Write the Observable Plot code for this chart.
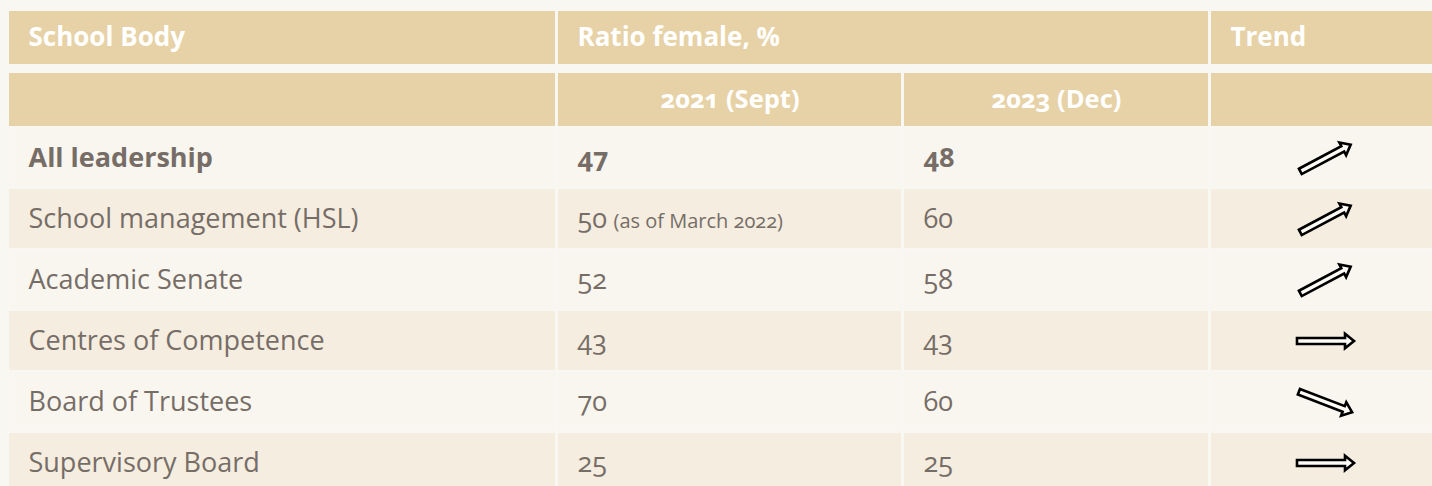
<!DOCTYPE html>
<html><head><meta charset="utf-8">
<script src="https://cdn.jsdelivr.net/npm/d3@7"></script>
<script src="https://cdn.jsdelivr.net/npm/@observablehq/plot@0.6"></script>
<style>html,body{margin:0;padding:0;background:#f9f7f2;overflow:hidden}</style>
</head><body><div id="chart"></div>
<script>
// ---- data ----
const bodies = ["All leadership", "School management (HSL)", "Academic Senate", "Centres of Competence", "Board of Trustees", "Supervisory Board"];
const ratio2021 = [47, 50, 52, 43, 70, 25];
const notes2021 = ["", "(as of March 2022)", "", "", "", ""];
const ratio2023 = [48, 60, 58, 43, 60, 25];
const headerTop = ["School Body", "Ratio female, %", "Trend"];
const headerSub = ["2021 (Sept)", "2023 (Dec)"];

// ---- layout & style ----
const L = {
  cols: [[9, 555], [558, 901], [904, 1208], [1211, 1440]],
  h1: [11, 64], h2: [73, 126],
  bodyTop: 128, pitch: 61, rowH: 59, pad: 19, arrowX: 1325
};
const C = {header: "#e6d2a6", light: "#f9f6ef", dark: "#f4ede0", text: "#776d67", white: "#ffffff", page: "#f9f7f2"};
const FONT = "'Open Sans', Lato, sans-serif";
const FS = {head: 26, sub: 25.5, body: 27, note: 20};

const rows = bodies.map((b, i) => ({
  body: b, v21: ratio2021[i], note: notes2021[i], v23: ratio2023[i],
  trend: Math.sign(ratio2023[i] - ratio2021[i]), i,
  y1: L.bodyTop + i * L.pitch, y2: L.bodyTop + i * L.pitch + L.rowH
}));

// cells
const cells = [];
cells.push({x1: L.cols[0][0], x2: L.cols[0][1], y1: L.h1[0], y2: L.h1[1], fill: C.header});
cells.push({x1: L.cols[1][0], x2: L.cols[2][1], y1: L.h1[0], y2: L.h1[1], fill: C.header});
cells.push({x1: L.cols[3][0], x2: L.cols[3][1], y1: L.h1[0], y2: L.h1[1], fill: C.header});
L.cols.forEach(c => cells.push({x1: c[0], x2: c[1], y1: L.h2[0], y2: L.h2[1], fill: C.header}));
rows.forEach(r => L.cols.forEach(c => cells.push({x1: c[0], x2: c[1], y1: r.y1, y2: r.y2, fill: r.i % 2 ? C.dark : C.light})));

const mid = a => (a[0] + a[1]) / 2;
const rowMid = r => (r.y1 + r.y2) / 2;
const topText = headerTop.map((t, k) => ({t, x: L.cols[[0, 1, 3][k]][0] + L.pad, y: mid(L.h1)}));
const subText = headerSub.map((t, k) => ({t, x: mid(L.cols[k + 1]), y: mid(L.h2)}));

const blockArrow = {
  draw(ctx, l) {
    const w = 3, hw = 7.2, hl = 9;
    ctx.moveTo(-w, 0); ctx.lineTo(-w, -l + hl); ctx.lineTo(-hw, -l + hl); ctx.lineTo(0, -l);
    ctx.lineTo(hw, -l + hl); ctx.lineTo(w, -l + hl); ctx.lineTo(w, 0); ctx.closePath();
  }
};

const boldRows = rows.filter(r => r.i === 0);
const plainRows = rows.filter(r => r.i !== 0);

function rowTexts(data, weight) {
  const base = {textAnchor: "start", fill: C.text, fontSize: FS.body, fontWeight: weight, fontFamily: FONT, y: rowMid};
  return [
    Plot.text(data, {...base, x: L.cols[0][0] + L.pad, text: "body"}),
    Plot.text(data, {...base, x: L.cols[1][0] + L.pad, text: r => String(r.v21)}),
    Plot.text(data, {...base, x: L.cols[2][0] + L.pad, text: r => String(r.v23)})
  ];
}

const chart = Plot.plot({
  width: 1432, height: 486, margin: 0,
  x: {type: "identity", axis: null},
  y: {type: "identity", axis: null},
  style: {background: C.page, fontFamily: FONT, fontVariantNumeric: "oldstyle-nums"},
  marks: [
    Plot.rect(cells, {x1: "x1", x2: "x2", y1: "y1", y2: "y2", fill: d => d.fill}),
    Plot.text(topText, {x: "x", y: "y", text: "t", textAnchor: "start", fill: C.white, fontSize: FS.head, fontWeight: "bold", fontFamily: FONT}),
    Plot.text(subText, {x: "x", y: "y", text: "t", textAnchor: "middle", fill: C.white, fontSize: FS.sub, fontWeight: "bold", fontFamily: FONT}),
    ...rowTexts(boldRows, "bold"),
    ...rowTexts(plainRows, "normal"),
    Plot.text(rows.filter(r => r.note), {x: L.cols[1][0] + L.pad, dx: 36, dy: 0.32 * (FS.body - FS.note), y: rowMid, text: "note", textAnchor: "start", fill: C.text, fontSize: FS.note, fontFamily: FONT}),
    Plot.vector(rows, {x: L.arrowX, y: rowMid, length: 57, rotate: r => r.trend > 0 ? 62 : r.trend < 0 ? 111 : 90, shape: blockArrow, fill: "#fdfbf6", stroke: "#000", strokeWidth: 2.6, strokeLinejoin: "miter", anchor: "middle"})
  ]
});
document.getElementById("chart").append(chart);
</script>
</body></html>
